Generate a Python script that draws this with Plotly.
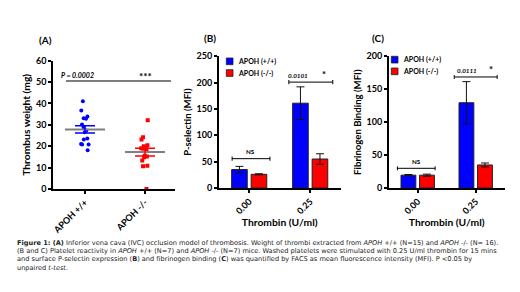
import numpy as np
import plotly.graph_objects as go

# ---------------- data ----------------
groups_A = ["APOH +/+", "APOH -/-"]
weight_wt = [41.0, 36.7, 33.9, 33.1, 32.9, 30.2, 28.8, 27.4, 26.5, 23.6, 23.1, 21.1, 20.8, 20.8, 18.1]
weight_ko = [32.2, 24.2, 23.1, 20.5, 20.0, 19.2, 19.1, 18.8, 18.5, 15.5, 15.2, 14.9, 13.3, 10.9, 10.6, 0.0]

doses = ["0.00", "0.25"]
series_names = ["APOH (+/+)", "APOH (-/-)"]
psel_wt = [35, 161]
psel_wt_err = [6, 31]
psel_ko = [26, 55]
psel_ko_err = [1, 10]
fib_wt = [19.5, 129.5]
fib_wt_err = [1, 32]
fib_ko = [19.5, 35]
fib_ko_err = [1.5, 3]

pval_A = "P = 0.0002"
pval_B = "0.0101"
pval_C = "0.0111"

BLUE = "#0000FF"
RED = "#FF0000"
FONT = "Lato"

W, H = 520, 292


def px_x(p):
    return p / W


def px_y(p):
    return 1 - p / H


fig = go.Figure()

# ---------------- panel A ----------------
for g, vals, col, sym in [(groups_A[0], weight_wt, BLUE, "circle"),
                          (groups_A[1], weight_ko, RED, "square")]:
    fig.add_trace(go.Box(
        x=[g] * len(vals), y=vals, boxpoints="all", jitter=0.35, pointpos=0,
        fillcolor="rgba(0,0,0,0)", line=dict(width=0, color="rgba(0,0,0,0)"),
        marker=dict(color=col, size=4, symbol=sym), showlegend=False,
        xaxis="x", yaxis="y", hoveron="points"))

means = [float(np.mean(weight_wt)), float(np.mean(weight_ko))]
sems = [float(np.std(weight_wt, ddof=1) / np.sqrt(len(weight_wt))),
        float(np.std(weight_ko, ddof=1) / np.sqrt(len(weight_ko)))]

fig.add_trace(go.Scatter(
    x=groups_A, y=means, mode="markers",
    marker=dict(symbol="line-ew", size=28.6, line=dict(color="#7f7f7f", width=2)),
    showlegend=False, xaxis="x", yaxis="y"))
for g, m, s, col in zip(groups_A, means, sems, [BLUE, RED]):
    fig.add_trace(go.Scatter(
        x=[g], y=[m], mode="markers", marker=dict(color="rgba(0,0,0,0)", size=1),
        error_y=dict(type="data", array=[s], color=col, thickness=1.5, width=10),
        showlegend=False, xaxis="x", yaxis="y"))

# ---------------- panels B and C ----------------
for xa, ya, wt, wte, ko, koe in [("x2", "y2", psel_wt, psel_wt_err, psel_ko, psel_ko_err),
                                 ("x3", "y3", fib_wt, fib_wt_err, fib_ko, fib_ko_err)]:
    fig.add_trace(go.Bar(
        x=doses, y=wt, name=series_names[0], marker=dict(color=BLUE, line=dict(color="#222", width=1)),
        error_y=dict(type="data", array=wte, color="#111", thickness=1, width=4),
        xaxis=xa, yaxis=ya, showlegend=False))
    fig.add_trace(go.Bar(
        x=doses, y=ko, name=series_names[1], marker=dict(color=RED, line=dict(color="#222", width=1)),
        error_y=dict(type="data", array=koe, color="#111", thickness=1, width=4),
        xaxis=xa, yaxis=ya, showlegend=False))

# ---------------- axes ----------------
tickfont = dict(family=FONT, size=9, color="black", weight="bold")
titlefont = dict(family=FONT, size=10.3, color="black", weight="bold")
common = dict(showline=True, linecolor="black", linewidth=1.5, ticks="outside", ticklen=3,
              tickwidth=1.5, tickcolor="black", showgrid=False, zeroline=False,
              tickfont=tickfont, automargin=False)

fig.update_layout(
    width=W, height=H, margin=dict(l=0, r=0, t=0, b=0),
    paper_bgcolor="white", plot_bgcolor="white",
    barmode="group", bargap=0.36, bargroupgap=0.2,
    xaxis=dict(common, type="category", domain=[px_x(45), px_x(167)], range=[-0.533, 1.5],
               tickangle=-45, anchor="y"),
    yaxis=dict(common, domain=[px_y(181), px_y(52.7)], range=[0, 60], dtick=10, anchor="x",
               title=dict(text="Thrombus weight (mg)", font=titlefont, standoff=3)),
    xaxis2=dict(common, type="category", domain=[px_x(210.7), px_x(332.7)], range=[-0.5, 1.5],
                tickangle=-45, anchor="y2",
                title=dict(text="Thrombin (U/ml)", font=dict(titlefont, size=10.3), standoff=1)),
    yaxis2=dict(common, domain=[px_y(180), px_y(48.3)], range=[0, 250], dtick=50, anchor="x2",
                title=dict(text="P-selectin (MFI)", font=dict(titlefont, size=9.6), standoff=3)),
    xaxis3=dict(common, type="category", domain=[px_x(380.7), px_x(496.7)], range=[-0.5, 1.5],
                tickangle=-45, anchor="y3",
                title=dict(text="Thrombin (U/ml)", font=dict(titlefont, size=10.3), standoff=1)),
    yaxis3=dict(common, domain=[px_y(180), px_y(48.3)], range=[0, 200], dtick=50, anchor="x3",
                title=dict(text="Fibrinogen Binding (MFI)", font=dict(titlefont, size=9.6), standoff=3)),
)

shapes = []
annots = []

# significance line panel A
shapes.append(dict(type="line", xref="x", yref="y", x0=-0.317, x1=1.433, y0=50.5, y1=50.5,
                   line=dict(color="#7f7f7f", width=2)))
annots.append(dict(xref="x", yref="y", x=-0.12, y=53.5, text="<i>" + pval_A + "</i>",
                   showarrow=False, font=dict(family=FONT, size=7, color="black", weight="bold")))
annots.append(dict(xref="x", yref="y", x=1.0, y=53.0, text="***", showarrow=False,
                   font=dict(family=FONT, size=10, color="black", weight="bold")))


def bracket(xa, ya, x0, x1, y, tick):
    shapes.append(dict(type="line", xref=xa, yref=ya, x0=x0, x1=x1, y0=y, y1=y,
                       line=dict(color="black", width=1)))
    for xx in (x0, x1):
        shapes.append(dict(type="line", xref=xa, yref=ya, x0=xx, x1=xx, y0=y - tick, y1=y + tick,
                           line=dict(color="black", width=1)))


small = dict(family=FONT, size=6.3, color="black", weight="bold")
# panel B
bracket("x2", "y2", -0.28, 0.34, 55.7, 4)
annots.append(dict(xref="x2", yref="y2", x=0.02, y=58, yanchor="bottom", text="NS", showarrow=False, font=small))
bracket("x2", "y2", 0.65, 1.37, 201, 4)
annots.append(dict(xref="x2", yref="y2", x=0.8, y=203, yanchor="bottom", text="<i>" + pval_B + "</i>",
                   showarrow=False, font=small))
annots.append(dict(xref="x2", yref="y2", x=1.22, y=201, yanchor="bottom", text="*", showarrow=False,
                   font=dict(small, size=9.5)))
# panel C
bracket("x3", "y3", -0.35, 0.30, 29.9, 3)
annots.append(dict(xref="x3", yref="y3", x=-0.02, y=32, yanchor="bottom", text="NS", showarrow=False, font=small))
bracket("x3", "y3", 0.63, 1.37, 168.6, 3)
annots.append(dict(xref="x3", yref="y3", x=0.85, y=170.5, yanchor="bottom", text="<i>" + pval_C + "</i>",
                   showarrow=False, font=small))
annots.append(dict(xref="x3", yref="y3", x=1.26, y=168.6, yanchor="bottom", text="*", showarrow=False,
                   font=dict(small, size=9.5)))

# panel labels
for lab, cx, cy in [("(A)", 37, 31.5), ("(B)", 202, 30), ("(C)", 370, 29.5)]:
    annots.append(dict(xref="paper", yref="paper", x=px_x(cx), y=px_y(cy), text=lab, showarrow=False,
                       xanchor="center", yanchor="middle",
                       font=dict(family=FONT, size=10, color="black", weight="bold")))

# custom legends
legfont = dict(family=FONT, size=7, color="black", weight="bold")
for (lx, ly) in [(218.3, 50), (383.3, 48.3)]:
    for i, (nm, col) in enumerate(zip(series_names, [BLUE, RED])):
        y0 = ly + i * 11.7
        shapes.append(dict(type="rect", xref="paper", yref="paper", x0=px_x(lx), x1=px_x(lx + 6.7),
                           y0=px_y(y0 + 6.7), y1=px_y(y0), fillcolor=col, line=dict(color="#222", width=0.8)))
        annots.append(dict(xref="paper", yref="paper", x=px_x(lx + 10), y=px_y(y0 + 3.4), text=nm,
                           showarrow=False, xanchor="left", yanchor="middle", font=legfont))

# caption
caption = [
    "<b>Figure 1: (A)</b> Inferior vena cava (IVC) occlusion model of thrombosis. Weight of thrombi extracted from <i>APOH</i> +/+ (N=15) and <i>APOH</i> -/- (N= 16).",
    "(B and C) Platelet reactivity in <i>APOH</i> +/+ (N=7) and <i>APOH</i> -/- (N=7) mice. Washed platelets were stimulated with 0.25 U/ml thrombin for 15 mins",
    "and surface P-selectin expression (<b>B</b>) and fibrinogen binding (<b>C</b>) was quantified by FACS as mean fluorescence intensity (MFI). P &lt;0.05 by",
    "unpaired <i>t-test</i>.",
]
for i, line in enumerate(caption):
    annots.append(dict(xref="paper", yref="paper", x=px_x(7), y=px_y(235.5 + i * 8.0), text=line,
                       showarrow=False, xanchor="left", yanchor="middle",
                       font=dict(family="DejaVu Sans", size=6.6, color="#222")))

fig.update_layout(shapes=shapes, annotations=annots)
fig.write_html("out.html")
